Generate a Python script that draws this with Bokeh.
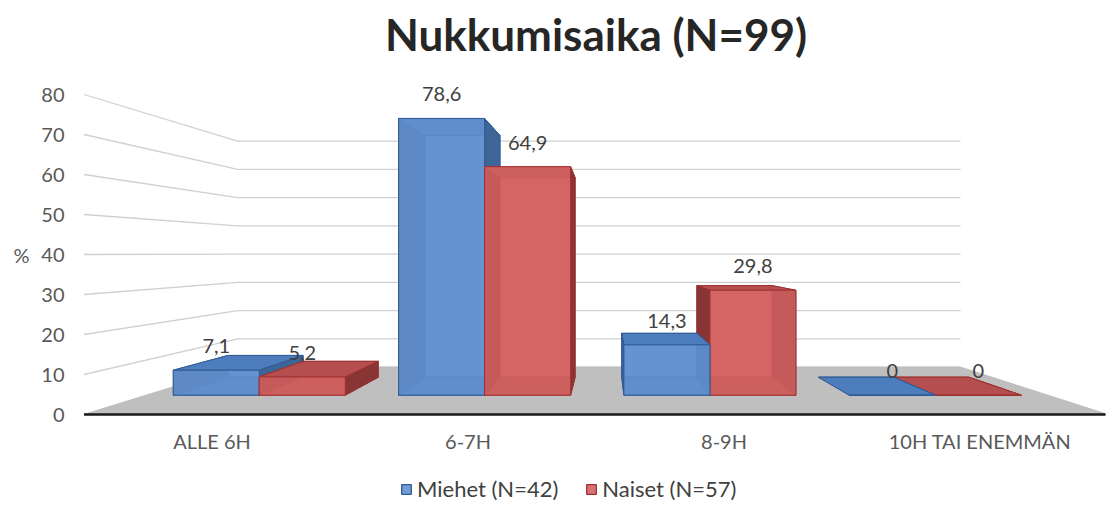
from bokeh.plotting import figure
from bokeh.layouts import column
from bokeh.models import Range1d, FixedTicker, Legend, LegendItem, ColumnDataSource, LinearAxis
from bokeh.core.properties import value
from bokeh.embed import file_html
from bokeh.resources import INLINE

# ---------------- data ----------------
title_text = "Nukkumisaika (N=99)"
categories = ["ALLE 6H", "6-7H", "8-9H", "10H TAI ENEMMÄN"]
series_names = ["Miehet (N=42)", "Naiset (N=57)"]
miehet = [7.1, 78.6, 14.3, 0.0]
naiset = [5.2, 64.9, 29.8, 0.0]
y_ticks = [0, 10, 20, 30, 40, 50, 60, 70, 80]
y_axis_label = "%"

# ---------------- styling / geometry ----------------
W, H, H_LEG = 1113, 466, 40
FR_L, FR_R, FR_T, FR_B = 82, 1105, 0, 422      # frame edges (page px)
MB_L, MB_R, MB_T, MB_B = FR_L, W - FR_R, FR_T, H - FR_B
Y0_PAGE, PPU = 414.0, 4.0          # front-plane zero line and pixels per unit

CX = 606.0                          # vanishing point x (page px)
EYE_V = 40.3                        # eye level (value units)
K = 0.4164                          # perspective depth factor
ZF, ZB = 0.327, 0.721               # bar depth (front/back)
CAT0, STEP = 211.5, 256.0
BAR_W = 0.3817 * STEP
X_LEFT, X_RIGHT = CAT0 - STEP / 2, CAT0 + (len(categories) - 0.5) * STEP
TITLE_X, TITLE_MID = 595.5, 33.0    # page px

pal = [
    dict(front="#6592cf", top="#4d7dbd", side="#3d6597", edge="#2f5a92"),
    dict(front="#d46464", top="#b54e4e", side="#883535", edge="#a03030"),
]
FONT = "Lato"


def proj(X, V, Z):
    s = 1.0 / (1.0 + K * Z)
    return CX + (X - CX) * s, EYE_V + (V - EYE_V) * s


p = figure(width=W, height=H, output_backend="svg", toolbar_location=None,
           x_range=Range1d(FR_L, FR_R),
           y_range=Range1d((Y0_PAGE - FR_B) / PPU, (Y0_PAGE - FR_T) / PPU),
           min_border_left=MB_L, min_border_right=MB_R,
           min_border_top=MB_T, min_border_bottom=MB_B)
p.outline_line_color = None
p.xgrid.visible = False
p.ygrid.visible = False
p.background_fill_color = "white"

# title
p.text([TITLE_X], [(Y0_PAGE - TITLE_MID) / PPU], text=[title_text],
       text_font=value(FONT), text_font_size="44px", text_font_style="bold",
       text_color="#262626", text_align="center", text_baseline="middle")

# ---------------- walls / gridlines ----------------
gx, gy = [], []
for t in y_ticks:
    pts = [proj(X_LEFT, t, 0), proj(X_LEFT, t, 1), proj(X_RIGHT, t, 1)]
    gx.append([q[0] for q in pts])
    gy.append([q[1] for q in pts])
p.multi_line(gx, gy, line_color="#d0d0d0", line_width=1.3)

# floor
fl = [proj(X_LEFT, 0, 0), proj(X_RIGHT, 0, 0), proj(X_RIGHT, 0, 1), proj(X_LEFT, 0, 1)]
p.patch([q[0] for q in fl], [q[1] for q in fl], fill_color="#bfbfbf", line_color="#bfbfbf")
fe = [proj(X_LEFT, 0, 0), proj(X_RIGHT, 0, 0)]
p.line([q[0] for q in fe], [q[1] for q in fe], line_color="#1a1a1a", line_width=2.5)

# ---------------- bars ----------------
bars = []
for j, vals in enumerate([miehet, naiset]):
    for i, v in enumerate(vals):
        c = CAT0 + i * STEP
        x0 = c - BAR_W + j * BAR_W
        x1 = x0 + BAR_W
        bars.append((abs((x0 + x1) / 2 - CX), x0, x1, v, j))
bars.sort(key=lambda b: -b[0])

F = dict(xs=[], ys=[], fill=[], alpha=[], line=[])


def add_face(pts, fill, alpha, line):
    pr = [proj(*q) for q in pts]
    F["xs"].append([q[0] for q in pr])
    F["ys"].append([q[1] for q in pr])
    F["fill"].append(fill)
    F["alpha"].append(alpha)
    F["line"].append(line)


for _, x0, x1, v, j in bars:
    c = pal[j]
    back = [(x0, 0, ZB), (x1, 0, ZB), (x1, v, ZB), (x0, v, ZB)]
    bottom = [(x0, 0, ZF), (x1, 0, ZF), (x1, 0, ZB), (x0, 0, ZB)]
    top = [(x0, v, ZF), (x1, v, ZF), (x1, v, ZB), (x0, v, ZB)]
    left = [(x0, 0, ZF), (x0, v, ZF), (x0, v, ZB), (x0, 0, ZB)]
    right = [(x1, 0, ZF), (x1, v, ZF), (x1, v, ZB), (x1, 0, ZB)]
    front = [(x0, 0, ZF), (x1, 0, ZF), (x1, v, ZF), (x0, v, ZF)]
    vis_side, hid_side = (right, left) if x1 < CX else (left, right)
    add_face(back, c["front"], 1.0, c["edge"])
    add_face(bottom, c["top"], 1.0, c["edge"])
    add_face(hid_side, c["side"], 1.0, c["edge"])
    add_face(top, c["top"], 1.0, c["edge"])
    if v > 0:
        add_face(vis_side, c["side"], 1.0, c["edge"])
    add_face(front, c["front"], 0.8, c["edge"])

src = ColumnDataSource(F)
p.patches("xs", "ys", source=src, fill_color="fill", fill_alpha="alpha",
          line_color="line", line_width=1, line_alpha=0.9)

# data labels
lx, ly, lt = [], [], []
for j, vals in enumerate([miehet, naiset]):
    for i, v in enumerate(vals):
        x0 = CAT0 + i * STEP - BAR_W + j * BAR_W
        sx, sy = proj(x0 + BAR_W / 2, v, ZF)
        lx.append(sx)
        ly.append(sy + 24 / PPU)
        lt.append(("%.1f" % v).replace(".", ",") if v else "0")
p.text(lx, ly, text=lt, text_font=value(FONT), text_font_size="20px",
       text_align="center", text_baseline="middle", text_color="#404040")

# ---------------- axes ----------------
def style_y(ax, standoff):
    ax.axis_line_color = None
    ax.major_tick_line_color = None
    ax.minor_tick_line_color = None
    ax.major_label_standoff = standoff
    ax.major_label_text_font = FONT
    ax.major_label_text_font_size = "20px"
    ax.major_label_text_color = "#595959"


p.yaxis.ticker = FixedTicker(ticks=y_ticks)
style_y(p.yaxis[0], 12)

# "%" unit label, level with the 40 tick
mid_tick = y_ticks[len(y_ticks) // 2]
unit_axis = LinearAxis(ticker=FixedTicker(ticks=[mid_tick]),
                       major_label_overrides={mid_tick: y_axis_label})
style_y(unit_axis, 3)
p.add_layout(unit_axis, "left")

cat_ticks = [CAT0 + i * STEP for i in range(len(categories))]
p.xaxis.ticker = FixedTicker(ticks=cat_ticks)
p.xaxis.major_label_overrides = {t: c for t, c in zip(cat_ticks, categories)}
p.xaxis.axis_line_color = None
p.xaxis.major_tick_line_color = None
p.xaxis.minor_tick_line_color = None
p.xaxis.major_label_standoff = 0
p.xaxis.major_label_text_font = FONT
p.xaxis.major_label_text_font_size = "20px"
p.xaxis.major_label_text_color = "#595959"

# ---------------- legend strip ----------------
pl = figure(width=W, height=H_LEG, output_backend="svg", toolbar_location=None,
            x_range=Range1d(0, 1), y_range=Range1d(0, 1),
            x_axis_type=None, y_axis_type=None,
            min_border_left=MB_L, min_border_right=MB_R, min_border_top=0, min_border_bottom=0)
pl.outline_line_color = None
pl.grid.visible = False
items = []
for j in range(2):
    # legend proxies, kept outside the visible range of the strip
    r = pl.quad(left=[-3], right=[-2], top=[-2], bottom=[-3], fill_color=pal[j]["front"],
                fill_alpha=0.9, line_color=pal[j]["edge"], line_width=1.3)
    items.append(LegendItem(label=series_names[j], renderers=[r]))
legend = Legend(items=items, location=(401 - FR_L - 1, 4), orientation="horizontal",
                border_line_color=None, background_fill_alpha=0, padding=0, margin=0,
                spacing=27, label_standoff=5, glyph_width=12, glyph_height=12,
                label_text_font=FONT, label_text_font_size="22px",
                label_text_color="#404040", label_text_baseline="middle")
pl.add_layout(legend, "center")

open("out.html", "w").write(file_html(column(p, pl, spacing=0), INLINE))
